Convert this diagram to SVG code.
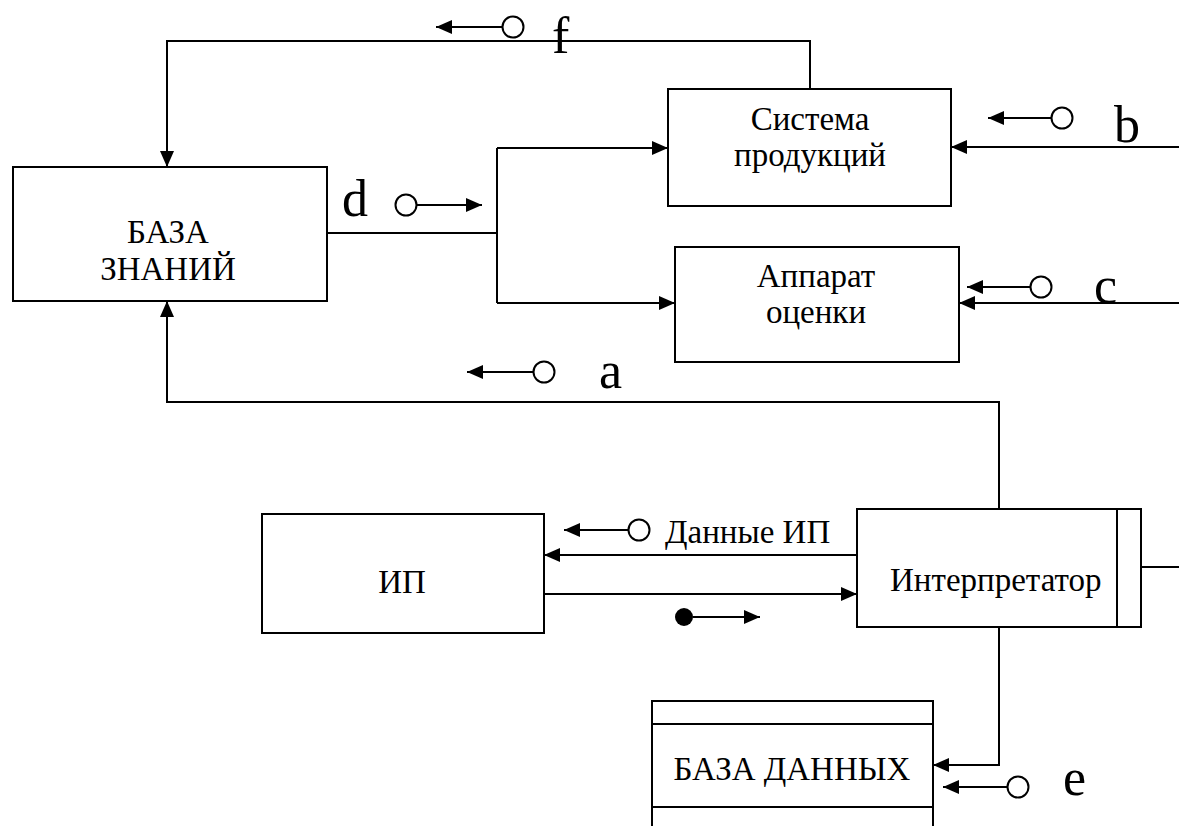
<svg xmlns="http://www.w3.org/2000/svg" width="1179" height="826" viewBox="0 0 1179 826">
  <style>
    .box { fill: #fff; stroke: #000; stroke-width: 2; }
    .wire { fill: none; stroke: #000; stroke-width: 2; }
    .sig { fill: none; stroke: #000; stroke-width: 2; }
    .lbl { font-family: 'Liberation Serif', 'Times New Roman', serif; font-size: 33px; fill: #000; }
    .mid { text-anchor: middle; }
    .big { font-family: 'Liberation Serif', 'Times New Roman', serif; font-size: 52px; fill: #000; }
  </style>
  <defs>
    <marker id="arrow" markerUnits="userSpaceOnUse" markerWidth="18" markerHeight="16" refX="16" refY="7" orient="auto">
      <path d="M0,0 L16,7 L0,14 z" fill="#000"/>
    </marker>
  </defs>
  <rect width="1179" height="826" fill="#fff"/>

  <!-- connectors -->
  <g id="connectors">
    <path class="wire" d="M810,89 V41 H167 V167" marker-end="url(#arrow)"/>
    <path class="wire" d="M327,233 H497"/>
    <path class="wire" d="M497,148 V303"/>
    <path class="wire" d="M497,148 H668" marker-end="url(#arrow)"/>
    <path class="wire" d="M497,303 H675" marker-end="url(#arrow)"/>
    <path class="wire" d="M1179,147 H951" marker-end="url(#arrow)"/>
    <path class="wire" d="M1179,303 H959" marker-end="url(#arrow)"/>
    <path class="wire" d="M999,509 V402 H167 V301" marker-end="url(#arrow)"/>
    <path class="wire" d="M857,555 H544" marker-end="url(#arrow)"/>
    <path class="wire" d="M544,594 H857" marker-end="url(#arrow)"/>
    <path class="wire" d="M999,627 V765 H933" marker-end="url(#arrow)"/>
    <path class="wire" d="M1141,567 H1179"/>
  </g>

  <!-- signal flags: circle with direction arrow -->
  <g id="signals">
    <circle class="sig" cx="513" cy="27" r="10.5"/>
    <path class="sig" d="M502,27 H436" marker-end="url(#arrow)"/>
    <text class="big" x="552" y="53">f</text>

    <circle class="sig" cx="1062" cy="118" r="10.5"/>
    <path class="sig" d="M1051,118 H988" marker-end="url(#arrow)"/>
    <text class="big" x="1114" y="142">b</text>

    <circle class="sig" cx="406" cy="205" r="10.5"/>
    <path class="sig" d="M417,205 H482" marker-end="url(#arrow)"/>
    <text class="big" x="342" y="216" font-size="48">d</text>

    <circle class="sig" cx="1041" cy="287" r="10.5"/>
    <path class="sig" d="M1030,287 H967" marker-end="url(#arrow)"/>
    <text class="big" x="1094" y="303">c</text>

    <circle class="sig" cx="544" cy="372" r="10.5"/>
    <path class="sig" d="M533,372 H467" marker-end="url(#arrow)"/>
    <text class="big" x="599" y="388" font-size="42">a</text>

    <circle class="sig" cx="639" cy="530" r="10.5"/>
    <path class="sig" d="M628,530 H564" marker-end="url(#arrow)"/>
    <text class="lbl" x="665" y="543">Данные ИП</text>

    <circle cx="684" cy="617" r="9" fill="#000"/>
    <path class="sig" d="M693,617 H760" marker-end="url(#arrow)"/>

    <circle class="sig" cx="1018" cy="787" r="10.5"/>
    <path class="sig" d="M1007,787 H943" marker-end="url(#arrow)"/>
    <text class="big" x="1063" y="795">e</text>
  </g>

  <g id="knowledge-base">
    <rect class="box" x="13" y="167" width="314" height="134"/>
    <text class="lbl mid" x="168" y="243" font-size="32">БАЗА</text>
    <text class="lbl mid" x="168" y="280" font-size="32">ЗНАНИЙ</text>
  </g>

  <g id="production-system">
    <rect class="box" x="668" y="89" width="283" height="117"/>
    <text class="lbl mid" x="810" y="130">Система</text>
    <text class="lbl mid" x="810" y="166">продукций</text>
  </g>

  <g id="evaluator">
    <rect class="box" x="675" y="247" width="284" height="115"/>
    <text class="lbl mid" x="816" y="287">Аппарат</text>
    <text class="lbl mid" x="816" y="323">оценки</text>
  </g>

  <g id="ip">
    <rect class="box" x="262" y="514" width="282" height="119"/>
    <text class="lbl mid" x="402" y="593" font-size="32">ИП</text>
  </g>

  <g id="interpreter">
    <rect class="box" x="857" y="509" width="284" height="118"/>
    <path class="wire" d="M1117,509 V627"/>
    <text class="lbl" x="890" y="591">Интерпретатор</text>
  </g>

  <g id="database">
    <path class="wire" d="M652,826 V701 H933 V826"/>
    <path class="wire" d="M652,724 H933 M652,807 H933"/>
    <text class="lbl mid" x="792" y="780">БАЗА ДАННЫХ</text>
  </g>
</svg>
